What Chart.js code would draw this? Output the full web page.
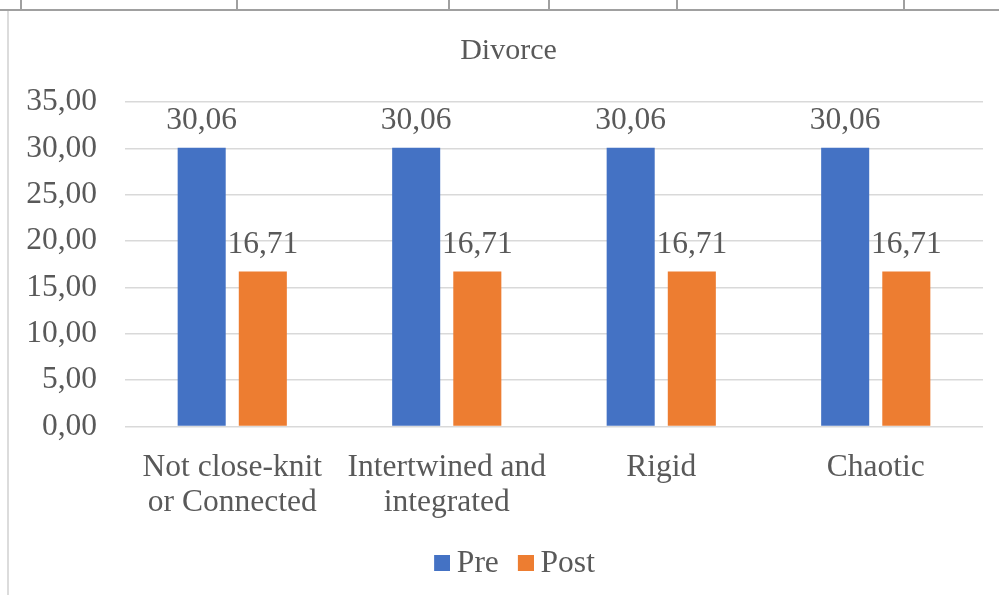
<!DOCTYPE html>
<html>
<head>
<meta charset="utf-8">
<script src="https://cdn.jsdelivr.net/npm/chart.js@4.4.1/dist/chart.umd.min.js"></script>
<style>
  html, body { margin: 0; padding: 0; background: #ffffff; }
  #wrap { position: relative; width: 999px; height: 595px; overflow: hidden; }
  #chart { position: absolute; left: 0; top: 0; }
  .rule-h { position: absolute; left: 0; top: 9px; width: 999px; height: 2px; background: #a0a0a0; }
  .rule-v { position: absolute; top: 0; width: 2px; height: 9px; background: #a0a0a0; }
  .rule-left { position: absolute; left: 7px; top: 11px; width: 2px; height: 584px; background: #dcdcdc; }
</style>
</head>
<body>
<div id="wrap">
  <canvas id="chart" width="999" height="595"></canvas>
  <div class="rule-h"></div>
  <div class="rule-v" style="left:20px"></div>
  <div class="rule-v" style="left:236px"></div>
  <div class="rule-v" style="left:448px"></div>
  <div class="rule-v" style="left:548px"></div>
  <div class="rule-v" style="left:676px"></div>
  <div class="rule-v" style="left:903px"></div>
  <div class="rule-left"></div>
</div>
<script>
// Family functioning categories and the two measurement series
const categories = [
  ['Not close-knit', 'or Connected'],
  ['Intertwined and', 'integrated'],
  'Rigid',
  'Chaotic'
];
const preValues = [30.06, 30.06, 30.06, 30.06];
const postValues = [16.71, 16.71, 16.71, 16.71];
const seriesNames = ['Pre', 'Post'];
const chartTitle = 'Divorce';

const TEXT = '#595959';
const FONT = 'Liberation Serif, Times New Roman, serif';
const PRE_COLOR = '#4472C4';
const POST_COLOR = '#ED7D31';
const fmt = v => v.toFixed(2).replace('.', ',');

// Legend swatch: a 16px square sitting at the right end of a wider transparent
// canvas, so the square ends up close to its label text.
function legendSwatch(color) {
  const c = document.createElement('canvas');
  c.width = 34;
  c.height = 16;
  const g = c.getContext('2d');
  g.fillStyle = color;
  g.fillRect(18, 0, 16, 16);
  return c;
}

// Value labels above each bar, comma as decimal separator
const barValueLabels = {
  id: 'barValueLabels',
  afterDatasetsDraw(chart) {
    const ctx = chart.ctx;
    ctx.save();
    ctx.font = '31.5px ' + FONT;
    ctx.fillStyle = TEXT;
    ctx.textAlign = 'center';
    ctx.textBaseline = 'alphabetic';
    chart.data.datasets.forEach((ds, di) => {
      chart.getDatasetMeta(di).data.forEach((bar, i) => {
        ctx.fillText(fmt(ds.data[i]), bar.x, bar.y - 19);
      });
    });
    ctx.restore();
  }
};

// Title and legend are centred over the whole chart object, which starts a bit
// further right than the value axis labels.
const centreBlocks = {
  id: 'centreBlocks',
  afterLayout(chart) {
    if (chart.titleBlock) chart.titleBlock.left = 34;
    if (chart.legend) chart.legend.left = 37;
  }
};

new Chart(document.getElementById('chart'), {
  type: 'bar',
  data: {
    labels: categories,
    datasets: [
      { label: seriesNames[0], data: preValues, backgroundColor: PRE_COLOR, pointStyle: legendSwatch(PRE_COLOR) },
      { label: seriesNames[1], data: postValues, backgroundColor: POST_COLOR, pointStyle: legendSwatch(POST_COLOR) }
    ]
  },
  options: {
    responsive: false,
    animation: false,
    devicePixelRatio: 1,
    layout: { padding: { left: 20, right: 16, top: 0, bottom: 6 } },
    datasets: { bar: { categoryPercentage: 0.57, barPercentage: 0.786 } },
    plugins: {
      title: {
        display: true,
        text: chartTitle,
        color: TEXT,
        font: { family: FONT, size: 30, weight: 'normal' },
        padding: { top: 33, bottom: 33 }
      },
      legend: {
        position: 'bottom',
        labels: {
          color: TEXT,
          font: { family: FONT, size: 31.5 },
          usePointStyle: true,
          pointStyleWidth: 16,
          boxWidth: 16,
          boxHeight: 16,
          padding: 10
        }
      },
      tooltip: { enabled: false }
    },
    scales: {
      x: {
        grid: { display: false, drawTicks: false },
        border: { display: false },
        ticks: {
          color: TEXT,
          font: { family: FONT, size: 31.5, lineHeight: 1.11 },
          padding: 24,
          maxRotation: 0,
          autoSkip: false
        },
        afterFit(scale) { scale.height = 111; }
      },
      y: {
        min: 0,
        max: 35,
        grid: { color: '#D9D9D9', lineWidth: 1.5, drawTicks: false },
        border: { display: false },
        ticks: {
          stepSize: 5,
          color: TEXT,
          font: { family: FONT, size: 31.5 },
          padding: 28,
          callback: v => fmt(v)
        },
        afterFit(scale) { scale.width = 105; }
      }
    }
  },
  plugins: [barValueLabels, centreBlocks]
});
</script>
</body>
</html>
